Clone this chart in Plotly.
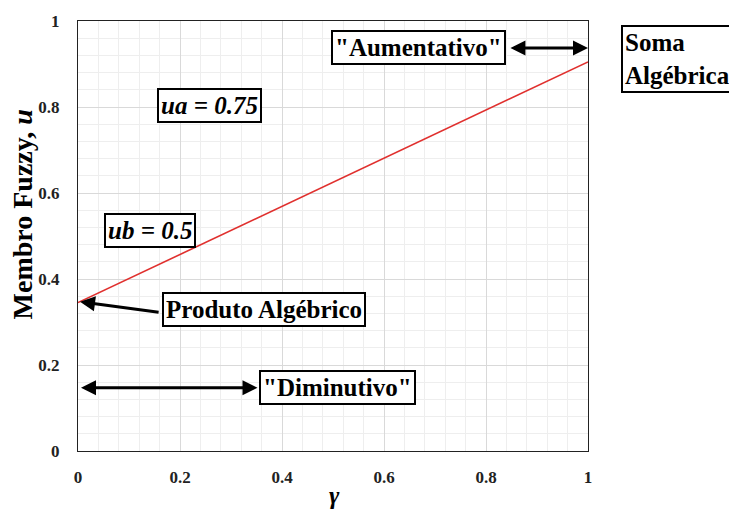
import plotly.graph_objects as go

gamma = [0.0, 1.0]
membership = [0.345, 0.905]
x_ticks = [0, 0.2, 0.4, 0.6, 0.8, 1]
x_tick_labels = ["0", "0.2", "0.4", "0.6", "0.8", "1"]
y_ticks = [0, 0.2, 0.4, 0.6, 0.8, 1]
y_tick_labels = ["0", "0.2", "0.4", "0.6", "0.8", "1"]

SERIF = "Liberation Serif"

fig = go.Figure()
fig.add_trace(go.Scatter(x=gamma, y=membership, mode="lines",
                         line=dict(color="#e0302e", width=1.6),
                         showlegend=False, hoverinfo="skip"))

axis_common = dict(
    showline=True, linecolor="#222", linewidth=1.2, mirror=True,
    showgrid=True, gridcolor="#d9d9d9", gridwidth=1,
    minor=dict(dtick=0.04, showgrid=True, gridcolor="#eeeeee", gridwidth=1),
    zeroline=False, ticks="", automargin=False,
    tickfont=dict(family=SERIF, size=17, color="#222", weight="bold"),
    range=[0, 1], dtick=0.2,
)

# page body has an 8px default margin, compensated here
fig.update_layout(
    width=737, height=513,
    margin=dict(l=70, r=157, t=13, b=70),
    paper_bgcolor="white", plot_bgcolor="white",
    xaxis=dict(**axis_common, tickvals=x_ticks, ticktext=x_tick_labels,
               ticklabelstandoff=10),
    yaxis=dict(**axis_common, tickvals=y_ticks, ticktext=y_tick_labels,
               ticklabelstandoff=14),
)

box = dict(bordercolor="black", borderwidth=2, bgcolor="white", borderpad=2,
           showarrow=False)
bold_font = dict(family=SERIF, size=25, color="black", weight="bold")
ital_font = dict(family=SERIF, size=25, color="black", weight="bold", style="italic")

# Text boxes
fig.add_annotation(x=0.258, y=0.803, xref="x", yref="y", text="ua = 0.75",
                   font=ital_font, **box)
fig.add_annotation(x=0.142, y=0.513, xref="x", yref="y", text="ub = 0.5",
                   font=ital_font, **box)
fig.add_annotation(x=0.667, y=0.938, xref="x", yref="y", text='"Aumentativo"',
                   font=bold_font, **box)
fig.add_annotation(x=0.365, y=0.33, xref="x", yref="y", text="Produto Algébrico",
                   font=bold_font, **box)
fig.add_annotation(x=0.509, y=0.148, xref="x", yref="y", text='"Diminutivo"',
                   font=bold_font, **box)
fig.add_annotation(x=1.065, y=0.99, xref="paper", yref="paper",
                   xanchor="left", yanchor="top", align="left",
                   text="Soma<br>Algébrica", font=bold_font, **box)

arrow = dict(text="", showarrow=True, arrowcolor="black", arrowwidth=3,
             arrowhead=2, arrowsize=1)

# Double arrows
fig.add_annotation(x=1.0, y=0.937, ax=0.845, ay=0.937, xref="x", yref="y",
                   axref="x", ayref="y", arrowside="end+start", **arrow)
fig.add_annotation(x=0.352, y=0.147, ax=0.003, ay=0.147, xref="x", yref="y",
                   axref="x", ayref="y", arrowside="end+start", **arrow)
# Single arrows
fig.add_annotation(x=0.004, y=0.347, ax=0.161, ay=0.322, xref="x", yref="y",
                   axref="x", ayref="y", **arrow)
fig.add_annotation(x=1.002, y=0.905, ax=33, ay=0, xref="x", yref="y",
                   axref="pixel", ayref="pixel", **arrow)

# Axis titles
fig.add_annotation(x=-0.108, y=0.55, xref="paper", yref="paper", textangle=-90,
                   xanchor="center", yanchor="middle",
                   text="Membro Fuzzy, <i>u</i>", showarrow=False,
                   font=dict(family=SERIF, size=28, color="black", weight="bold"))
fig.add_annotation(x=0.502, y=-0.104, xref="paper", yref="paper",
                   xanchor="center", yanchor="middle",
                   text="<i>γ</i>", showarrow=False,
                   font=dict(family=SERIF, size=25, color="black", weight="bold"))

fig.write_html("out.html")
